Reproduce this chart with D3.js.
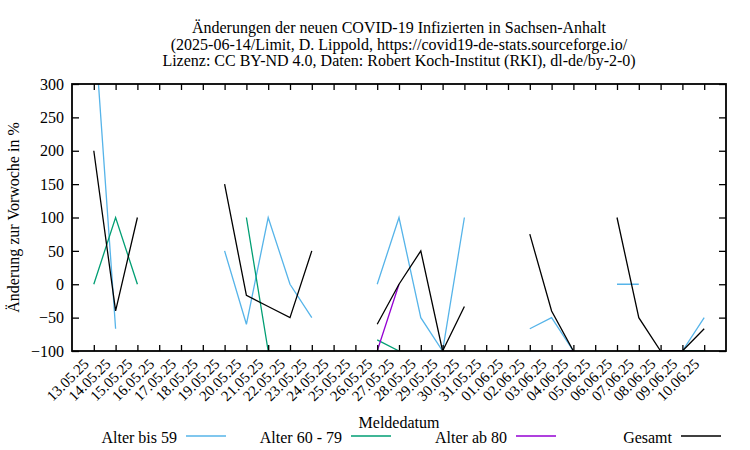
<!DOCTYPE html>
<html>
<head>
<meta charset="utf-8">
<script src="https://cdn.jsdelivr.net/npm/d3@7"></script>
<style>
  body { margin: 0; background: #fff; }
  svg { font-family: "Liberation Serif", "DejaVu Serif", serif; }
</style>
</head>
<body>
<svg id="chart" width="750" height="450"></svg>
<script>
// Meldedatum labels, 13.05.25 .. 10.06.25
const dates = [
  '13.05.25', '14.05.25', '15.05.25', '16.05.25', '17.05.25', '18.05.25', '19.05.25',
  '20.05.25', '21.05.25', '22.05.25', '23.05.25', '24.05.25', '25.05.25', '26.05.25',
  '27.05.25', '28.05.25', '29.05.25', '30.05.25', '31.05.25', '01.06.25', '02.06.25',
  '03.06.25', '04.06.25', '05.06.25', '06.06.25', '07.06.25', '08.06.25', '09.06.25',
  '10.06.25'
];

// change vs previous week in %, null = no value
const bis59 = [400, -66.7, null, null, null, null, 50, -60, 100, 0, -50, null, null, 0,
  100, -50, -100, 100, null, null, -66.7, -50, -100, null, 0, 0, null, -100, -50];
const alter6079 = [0, 100, 0, null, null, null, null, 100, -100, -100, null, null, null, -83.3,
  -100, null, null, null, null, null, null, null, null, null, null, null, null, -100, -100];
const ab80 = [null, null, null, null, null, null, null, null, null, null, null, null, null, -100,
  0, null, null, null, null, null, null, -100, -100, null, null, null, -100, -100, null];
const gesamt = [200, -40, 100, null, null, null, 150, -16.7, -33.3, -50, 50, null, null, -60,
  0, 50, -100, -33.3, null, null, 75, -40, -100, null, 100, -50, -100, -100, -66.7];

const yTicks = [-100, -50, 0, 50, 100, 150, 200, 250, 300];

const series = [
  { name: 'Alter bis 59', values: bis59, color: '#56b4e9' },
  { name: 'Alter 60 - 79', values: alter6079, color: '#009e73' },
  { name: 'Alter ab 80', values: ab80, color: '#9400d3' },
  { name: 'Gesamt', values: gesamt, color: '#000000' }
];

const parseDate = d3.timeParse('%d.%m.%y');
const days = dates.map(parseDate);

const margin = { left: 72, right: 24, top: 84, bottom: 99 };
const W = 750, H = 450;
const svg = d3.select('#chart');

const x = d3.scaleTime()
  .domain([d3.timeDay.offset(days[0], -1), d3.timeDay.offset(days[days.length - 1], 1)])
  .range([margin.left, W - margin.right]);
const y = d3.scaleLinear()
  .domain([-100, 300])
  .range([H - margin.bottom, margin.top]);

// title
const title = [
  'Änderungen der neuen COVID-19 Infizierten in Sachsen-Anhalt',
  '(2025-06-14/Limit, D. Lippold, https://covid19-de-stats.sourceforge.io/',
  'Lizenz: CC BY-ND 4.0, Daten: Robert Koch-Institut (RKI), dl-de/by-2-0)'
];
svg.append('g').selectAll('text')
  .data(title)
  .enter()
  .append('text')
  .attr('x', (x.range()[0] + x.range()[1]) / 2)
  .attr('y', (d, i) => 33 + i * 16.7)
  .attr('text-anchor', 'middle')
  .attr('font-size', 16)
  .text(d => d);

// clip for the data lines
svg.append('defs').append('clipPath').attr('id', 'plotclip')
  .append('rect')
  .attr('x', x.range()[0]).attr('y', y.range()[1])
  .attr('width', x.range()[1] - x.range()[0])
  .attr('height', y.range()[0] - y.range()[1]);

const line = d3.line()
  .defined(d => d.v !== null)
  .x(d => x(d.date))
  .y(d => y(d.v));

svg.append('g').attr('clip-path', 'url(#plotclip)')
  .selectAll('path')
  .data(series)
  .enter()
  .append('path')
  .attr('fill', 'none')
  .attr('stroke', d => d.color)
  .attr('stroke-width', 1.3)
  .attr('d', d => line(d.values.map((v, i) => ({ date: days[i], v }))));

// axes, ticks pointing inward
const xBottom = svg.append('g')
  .attr('transform', `translate(0,${y.range()[0]})`)
  .call(d3.axisBottom(x).tickValues(days).tickSize(-6).tickFormat(''));
const xTop = svg.append('g')
  .attr('transform', `translate(0,${y.range()[1]})`)
  .call(d3.axisTop(x).tickValues(days).tickSize(-6).tickFormat(''));
const yLeft = svg.append('g')
  .attr('transform', `translate(${x.range()[0]},0)`)
  .call(d3.axisLeft(y).tickValues(yTicks).tickSize(-7).tickPadding(8));
const yRight = svg.append('g')
  .attr('transform', `translate(${x.range()[1]},0)`)
  .call(d3.axisRight(y).tickValues(yTicks).tickSize(-7).tickFormat(''));

[xBottom, xTop, yLeft, yRight].forEach(g => {
  g.select('.domain').remove();
  g.selectAll('line').attr('stroke', '#000').attr('stroke-width', 1.3);
});
yLeft.selectAll('text')
  .attr('font-size', 16)
  .attr('font-family', '"Liberation Serif", serif')
  .attr('fill', '#000');

// border
svg.append('rect')
  .attr('x', x.range()[0]).attr('y', y.range()[1])
  .attr('width', x.range()[1] - x.range()[0])
  .attr('height', y.range()[0] - y.range()[1])
  .attr('fill', 'none')
  .attr('stroke', '#000')
  .attr('stroke-width', 1.8);

// rotated date labels
svg.append('g').selectAll('text')
  .data(days)
  .enter()
  .append('text')
  .attr('transform', (d) => `translate(${x(d) - 4},${y.range()[0] + 14}) rotate(-45)`)
  .attr('text-anchor', 'end')
  .attr('font-size', 15)
  .text((d, i) => dates[i]);

// axis titles
svg.append('text')
  .attr('x', (x.range()[0] + x.range()[1]) / 2)
  .attr('y', 428)
  .attr('text-anchor', 'middle')
  .attr('font-size', 16)
  .text('Meldedatum');

svg.append('text')
  .attr('transform', `translate(19,${(y.range()[0] + y.range()[1]) / 2}) rotate(-90)`)
  .attr('text-anchor', 'middle')
  .attr('font-size', 16)
  .text('Änderung zur Vorwoche in %');

// legend
const legend = svg.append('g').selectAll('g')
  .data(series)
  .enter()
  .append('g')
  .attr('transform', (d, i) => `translate(${177 + i * 165},443)`);
legend.append('text')
  .attr('text-anchor', 'end')
  .attr('font-size', 16)
  .text(d => d.name);
legend.append('line')
  .attr('x1', 9).attr('x2', 49)
  .attr('y1', -7).attr('y2', -7)
  .attr('stroke', d => d.color)
  .attr('stroke-width', 1.3);
</script>
</body>
</html>
